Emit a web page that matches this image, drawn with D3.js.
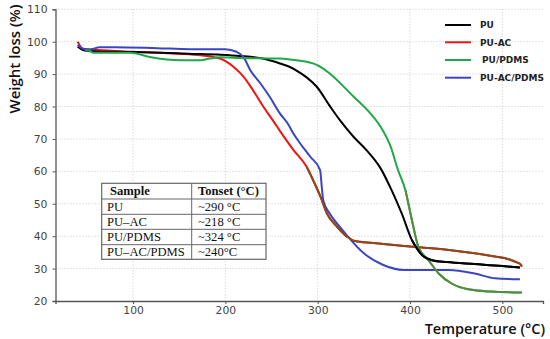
<!DOCTYPE html>
<html><head><meta charset="utf-8">
<script src="https://cdn.jsdelivr.net/npm/d3@7"></script>
<style>body{margin:0;background:#fff}svg{display:block}</style>
</head><body>
<svg id="c" width="550" height="339"></svg>
<script>
const seriesNames = ["PU", "PU-AC", "PU/PDMS", "PU-AC/PDMS"];
const xTicks = [100, 200, 300, 400, 500];
const yTicks = [20, 30, 40, 50, 60, 70, 80, 90, 100, 110];

const puT = [40,45,50,60,80,100,130,160,195,216,245,259,270,281,288,299,313,324,339,353,368,380,391,402,413,424,440,470,500,519];
const puV = [98.5,97.5,97.2,97,96.9,96.8,96.6,96.3,96.0,95.6,94.5,93.3,92.2,90.4,89,86.1,80.2,75.8,70.6,66.5,61,54.2,47,38.8,34.2,32.6,32,31.4,30.8,30.3];

const acT = [40,42,45,53,100,150,173,194,209,220,230,241,252,259,274,288,295,303,310,321,332,339,360,400,440,470,490,507,515,520,521];
const acV = [100,99,97.8,97.6,96.9,96.3,95.8,94.8,92.2,89.1,85,80,75.5,72.5,66.5,61.4,57.3,52.2,47,42.9,39.8,38.6,37.9,36.8,35.8,34.7,33.8,32.9,32,31.2,30.6];

const pdT = [48,53,57,97,118,151,173,183,194,216,259,270,295,306,313,339,357,368,379,387,395,402,409,420,431,445,463,488,521];
const pdV = [97.4,97.2,96.6,96.6,95.3,94.3,94.3,94.8,95.2,95,94.8,94.5,93.3,91.7,90.2,83,77.9,73.8,67.6,60.4,54.2,45,36.7,32.6,28.5,25.4,23.6,22.9,22.6];

const acpdT = [40,42,46,53,64,80,126,162,200,212,219.5,227,238,248,259,267,274,281,292,302.6,304.4,306,313,324,333,350,371,393,420,442,470,492,519];
const acpdV = [99,98.5,97.8,97.6,98.3,98.3,98,97.7,97.7,96.9,95.3,91.2,87.1,83,77.9,75,71.5,68.6,64.5,60.4,55.2,51.1,47,42.9,39.8,34.7,31.1,29.6,29.6,29.6,28.5,27,26.7];

const tableHead = ["Sample", "Tonset (°C)"];
const tableSamples = ["PU", "PU–AC", "PU/PDMS", "PU–AC/PDMS"];
const tableOnset = ["~290 °C", "~218 °C", "~324 °C", "~240°C"];

const colors = ["#000000", "#f01414", "#1fa84a", "#3b44c2"];
const svg = d3.select("#c");
const x = d3.scaleLinear().domain([16, 544]).range([55.5, 543]);
const y = d3.scaleLinear().domain([20, 110]).range([301, 9.3]);

// grid
const g = svg.append("g");
g.selectAll("line.v").data(xTicks).join("line")
  .attr("x1", d => x(d)).attr("x2", d => x(d)).attr("y1", y(110)).attr("y2", y(20))
  .attr("stroke", "#c8c8c8").attr("stroke-dasharray", "1,2");
g.selectAll("line.h").data(yTicks.slice(1)).join("line")
  .attr("x1", x.range()[0]).attr("x2", x.range()[1]).attr("y1", d => y(d)).attr("y2", d => y(d))
  .attr("stroke", "#c8c8c8").attr("stroke-dasharray", "1,2");

// axes
const xa = svg.append("g").attr("transform", `translate(0,${y(20)})`)
  .call(d3.axisBottom(x).tickValues(xTicks).tickSize(3).tickPadding(2));
const ya = svg.append("g").attr("transform", `translate(${x.range()[0]},0)`)
  .call(d3.axisLeft(y).tickValues(yTicks).tickSize(3).tickPadding(5));
[xa, ya].forEach(a => {
  a.select(".domain").attr("stroke", "#555").attr("stroke-width", 1.3);
  a.selectAll(".tick line").attr("stroke", "#555");
  a.selectAll("text").attr("font-family", "DejaVu Sans").attr("font-size", 10.8).attr("fill", "#444");
});

// lines
const line = d3.line().x(d => x(d[0])).y(d => y(d[1])).curve(d3.curveMonotoneX);
const zip = (a, b) => a.map((t, i) => [t, b[i]]);
const data = [zip(puT, puV), zip(acT, acV), zip(pdT, pdV), zip(acpdT, acpdV)];
const drawOrder = [1, 0, 3, 2];
drawOrder.forEach(i => {
  svg.append("path").attr("d", line(data[i])).attr("fill", "none")
    .attr("stroke", colors[i]).attr("stroke-width", 2);
});
// colour shifts on the tails
svg.append("path").attr("d", line(data[1].filter(d => d[0] >= 288))).attr("fill", "none")
  .attr("stroke", "#8a4a1c").attr("stroke-width", 2);
svg.append("path").attr("d", line(data[2].filter(d => d[0] >= 395))).attr("fill", "none")
  .attr("stroke", "#5a8a40").attr("stroke-width", 2);
// redraw black over brown tail crossing
svg.append("path").attr("d", line(data[0].filter(d => d[0] >= 400))).attr("fill", "none")
  .attr("stroke", colors[0]).attr("stroke-width", 2);

// legend
const lg = svg.append("g");
const legY = [25, 42.3, 60, 77.7];
const legTx = [480, 480, 482, 480];
seriesNames.forEach((n, i) => {
  lg.append("line").attr("x1", 445).attr("x2", 471).attr("y1", legY[i]).attr("y2", legY[i])
    .attr("stroke", colors[i]).attr("stroke-width", 2);
  lg.append("text").attr("x", legTx[i]).attr("y", legY[i] + 3.3).text(n)
    .attr("font-family", "DejaVu Sans").attr("font-weight", "bold").attr("font-size", 9).attr("fill", "#222");
});

// axis titles
svg.append("text").attr("transform", `translate(20,59) rotate(-90)`).attr("text-anchor", "middle")
  .attr("font-family", "Open Sans").attr("font-weight", 600).attr("font-size", 15).attr("fill", "#111")
  .text("Weight loss (%)");
svg.append("text").attr("x", 545).attr("y", 333.5).attr("text-anchor", "end")
  .attr("font-family", "Open Sans").attr("font-weight", 600).attr("font-size", 14.5).attr("fill", "#111")
  .text("Temperature (°C)");

// table
const tb = svg.append("g");
const tx0 = 101.7, tx1 = 191.7, tx2 = 266;
const rowY = [183.3, 199, 214.3, 229.3, 244.7, 259.3];
tb.append("rect").attr("x", tx0).attr("y", rowY[0]).attr("width", tx2 - tx0).attr("height", rowY[5] - rowY[0])
  .attr("fill", "#fff").attr("stroke", "#666").attr("stroke-width", 1.2);
rowY.slice(1, 5).forEach(ry => tb.append("line").attr("x1", tx0).attr("x2", tx2).attr("y1", ry).attr("y2", ry)
  .attr("stroke", "#666").attr("stroke-width", 1));
tb.append("line").attr("x1", tx1).attr("x2", tx1).attr("y1", rowY[0]).attr("y2", rowY[5]).attr("stroke", "#666");
const rows = [tableHead].concat(tableSamples.map((s, i) => [s, tableOnset[i]]));
rows.forEach((r, i) => {
  const yb = (rowY[i] + rowY[i + 1]) / 2 + 4.3;
  const bold = i === 0;
  tb.append("text").attr("x", bold ? 110 : 107).attr("y", yb).text(r[0])
    .attr("font-family", "Liberation Serif").attr("font-size", 12.6).attr("font-weight", bold ? "bold" : "normal").attr("fill", "#111");
  tb.append("text").attr("x", 198).attr("y", yb).text(r[1])
    .attr("font-family", "Liberation Serif").attr("font-size", 12.6).attr("font-weight", bold ? "bold" : "normal").attr("fill", "#111");
});
</script>
</body></html>
